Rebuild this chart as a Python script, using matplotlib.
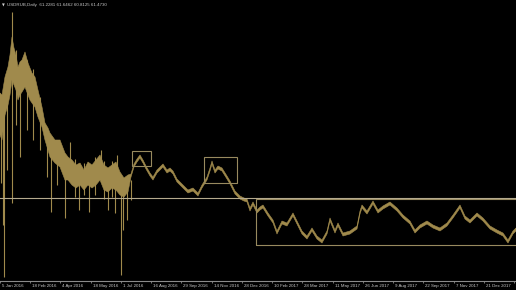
import numpy as np
import matplotlib
matplotlib.use('Agg')
import matplotlib.pyplot as plt
import matplotlib.transforms as mtrans

# USDRUB daily, bar index vs price
bar = [0, 2, 5, 8, 10, 12, 14, 16, 18, 20, 22, 25, 28, 30, 32, 35, 38, 42, 45, 48,
       50, 55, 60, 65, 68, 72, 76, 80, 84, 88, 92, 96, 100, 104, 108, 112, 116, 120, 124, 128,
       131, 134, 137, 140, 143, 146, 150, 153, 157, 160, 163, 167, 170, 173, 177, 180, 183, 188, 193, 198,
       202, 207, 210, 212, 215, 218, 222, 227, 230, 233, 235, 240, 244, 247, 250, 253, 257, 260, 263, 268,
       273, 277, 282, 287, 293, 297, 302, 307, 312, 317, 322, 327, 330, 335, 338, 343, 350, 357, 360, 362,
       367, 373, 378, 383, 390, 397, 403, 410, 415, 420, 427, 433, 440, 447, 453, 460, 465, 470, 477, 483,
       490, 497, 503, 508, 513, 516]

high = [75.2, 75.0, 76.8, 77.8, 79.0, 80.8, 79.7, 79.0, 77.8, 78.3, 78.5, 79.3, 78.2, 77.7, 77.2, 76.8, 75.5, 73.8, 72.2, 71.7,
        71.2, 70.5, 70.5, 69.2, 68.8, 68.5, 68.0, 68.2, 67.5, 68.3, 68.0, 68.5, 69.0, 68.0, 67.7, 68.0, 68.3, 67.3, 66.7, 67.0,
        67.1, 68.1, 68.6, 69.0, 68.5, 67.9, 67.2, 66.8, 67.5, 67.8, 68.1, 67.5, 67.7, 67.4, 66.6, 66.3, 66.0, 65.5, 65.7, 65.2,
        66.0, 66.8, 67.7, 68.4, 67.5, 67.9, 67.7, 66.9, 66.4, 65.8, 65.4, 64.9, 64.7, 64.6, 63.7, 64.3, 63.5, 63.8, 64.0, 63.2,
        62.5, 61.4, 62.4, 62.2, 63.2, 62.4, 61.4, 60.9, 61.7, 60.9, 60.5, 61.4, 62.7, 61.5, 62.2, 61.2, 61.4, 61.9, 63.4, 64.0,
        63.4, 64.4, 63.5, 63.9, 64.3, 63.7, 63.0, 62.4, 61.5, 62.0, 62.4, 62.0, 61.7, 62.2, 63.0, 64.0, 62.9, 62.5, 63.2, 62.7,
        61.9, 61.5, 61.2, 60.5, 61.4, 61.7]

low = [71.0, 70.5, 73.0, 74.0, 75.0, 76.5, 76.0, 75.5, 74.5, 75.0, 75.3, 75.8, 75.0, 74.5, 74.2, 73.8, 72.8, 71.8, 70.5, 69.5,
       68.8, 68.2, 67.8, 66.5, 66.5, 66.0, 65.7, 66.0, 65.5, 66.0, 65.7, 66.0, 66.5, 65.5, 65.3, 65.7, 65.5, 65.0, 64.8, 65.3,
       66.8, 67.8, 68.3, 68.7, 68.2, 67.6, 66.9, 66.5, 67.2, 67.5, 67.8, 67.2, 67.4, 67.1, 66.3, 66.0, 65.7, 65.2, 65.4, 64.9,
       65.7, 66.5, 67.4, 68.1, 67.2, 67.6, 67.4, 66.6, 66.1, 65.5, 65.1, 64.6, 64.4, 64.3, 63.4, 64.0, 63.2, 63.5, 63.7, 62.9,
       62.2, 61.1, 62.1, 61.9, 62.9, 62.1, 61.1, 60.6, 61.4, 60.6, 60.2, 61.1, 62.4, 61.2, 61.9, 60.9, 61.1, 61.6, 63.1, 63.7,
       63.1, 64.1, 63.2, 63.6, 64.0, 63.4, 62.7, 62.1, 61.2, 61.7, 62.1, 61.7, 61.4, 61.9, 62.7, 63.7, 62.6, 62.2, 62.9, 62.4,
       61.6, 61.2, 60.9, 60.2, 61.1, 61.4]

# long wicks
spike_x = [1, 3, 4, 7, 12, 16, 20, 27, 33, 40, 47, 51, 57, 65, 70, 75, 79, 84, 89, 95,
           101, 104, 108, 112, 115, 117, 121, 123, 127, 131]
spike_hi = [74.0, 74.5, 75.5, 76.5, 83.3, 79.5, 77.0, 78.5, 77.6, 74.8, 71.5, 70.5, 70.4, 68.5, 70.3, 68.6, 67.5, 68.2, 67.5, 68.8,
            69.5, 68.4, 67.0, 68.4, 67.5, 69.0, 67.0, 66.5, 66.5, 66.5]
spike_lo = [66.2, 62.0, 56.8, 67.5, 64.2, 72.0, 68.8, 71.5, 70.5, 69.5, 66.8, 63.3, 66.0, 62.7, 67.0, 64.8, 63.5, 65.0, 63.3, 65.0,
            66.5, 64.6, 63.5, 64.8, 63.2, 66.0, 57.0, 61.5, 62.5, 64.5]

tick_pos = [0, 30, 60, 91, 121, 151, 181, 212, 242, 272, 302, 333, 363, 393, 423, 454, 484, 514]
tick_lab = ['5 Jan 2016', '18 Feb 2016', '4 Apr 2016', '18 May 2016', '1 Jul 2016', '16 Aug 2016',
            '29 Sep 2016', '14 Nov 2016', '28 Dec 2016', '10 Feb 2017', '28 Mar 2017', '11 May 2017',
            '26 Jun 2017', '9 Aug 2017', '22 Sep 2017', '7 Nov 2017', '21 Dec 2017', '5 Feb 2018']

hline = 64.7
# boxes: x0, x1, price low, price high
boxes = [(132, 151, 67.9, 69.4), (204, 237, 66.2, 68.8), (256, 530, 60.0, 64.6)]

header = 'USDRUB,Daily  61.2281 61.6462 60.8125 61.4730'

gold = '#a08a4c'
small = ['Liberation Sans', 'DejaVu Sans']

fig = plt.figure(figsize=(5.16, 2.9), dpi=100, facecolor='black')
ax = fig.add_axes([0, 9/290, 1, 281/290])
ax.set_facecolor('black')

ax.fill_between(bar, low, high, color=gold, lw=0.4, edgecolor=gold)
ax.vlines(spike_x, spike_lo, spike_hi, color=gold, lw=0.8)

ax.axhline(hline, color='#b5aa8e', lw=0.8)
for x0, x1, p0, p1 in boxes:
    ax.add_patch(plt.Rectangle((x0, p0), x1 - x0, p1 - p0, fill=False, ec='#988a5f', lw=0.8))

ax.set_xlim(0, 516)
ax.set_ylim(56.4, 84.5)
for s in ['top', 'left', 'right']:
    ax.spines[s].set_visible(False)
ax.spines['bottom'].set_color('#8a8a8a')
ax.spines['bottom'].set_linewidth(0.8)
ax.set_yticks([])
ax.set_xticks(tick_pos)
ax.set_xticklabels(tick_lab, ha='left', fontfamily=small)
ax.tick_params(axis='x', length=1.6, width=0.6, color='#8a8a8a', labelcolor='#c8c8c8',
               labelsize=3.2, pad=0.4)
off = mtrans.ScaledTranslation(1.2/72, 0, fig.dpi_scale_trans)
for lab in ax.get_xticklabels():
    lab.set_transform(lab.get_transform() + off)

fig.text(0.004, 0.987, '\u25bc', color='#d0d0d0', fontsize=2.6, va='top')
fig.text(0.013, 0.99, header, color='#c8c8c8', fontsize=3.2, va='top', family=small)

fig.savefig('out.png', dpi=100, facecolor='black')
